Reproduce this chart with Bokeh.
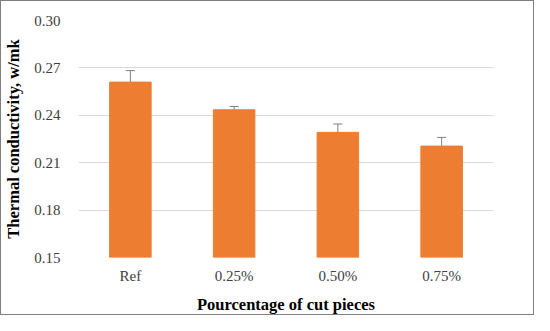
from bokeh.plotting import figure
from bokeh.models import ColumnDataSource, FactorRange, Range1d, Whisker, TeeHead, FixedTicker, CustomJSTickFormatter
from bokeh.embed import file_html
from bokeh.resources import INLINE

categories = ["Ref", "0.25%", "0.50%", "0.75%"]
values = [0.261, 0.2435, 0.2292, 0.2205]
errors = [0.0073, 0.0021, 0.0053, 0.0055]
y_ticks = [0.15, 0.18, 0.21, 0.24, 0.27, 0.30]

upper = [v + e for v, e in zip(values, errors)]
lower = [v - e for v, e in zip(values, errors)]
src = ColumnDataSource(dict(cat=categories, val=values, upper=upper, lower=lower))

p = figure(x_range=FactorRange(*categories, range_padding=0.0),
           y_range=Range1d(0.15, 0.30),
           width=534, height=315, output_backend="svg", toolbar_location=None,
           min_border_left=71, min_border_right=42, min_border_top=19, min_border_bottom=56)
p.styles = {"border": "1px solid #7f7f7f", "box-sizing": "border-box"}
p.outline_line_color = None

p.vbar(x="cat", top="val", bottom=0.15, width=0.4, source=src,
       fill_color="#ED7D31", line_color="#ED7D31")

w = Whisker(base="cat", upper="upper", lower="lower", source=src,
            line_color="#7f7f7f", line_width=1,
            upper_head=TeeHead(size=9, line_color="#7f7f7f", line_width=1),
            lower_head=TeeHead(size=9, line_color="#7f7f7f", line_width=1))
p.add_layout(w)

p.yaxis.ticker = FixedTicker(ticks=y_ticks)
p.yaxis.formatter = CustomJSTickFormatter(code="return tick.toFixed(2);")

for ax in (p.xaxis, p.yaxis):
    ax.axis_line_color = None
    ax.major_tick_line_color = None
    ax.minor_tick_line_color = None
    ax.major_label_text_font = "Liberation Serif"
    ax.major_label_text_font_size = "15px"
    ax.major_label_text_color = "#404040"
    ax.axis_label_text_font = "Liberation Serif"
    ax.axis_label_text_font_style = "bold"
    ax.axis_label_text_font_size = "16.5px"
    ax.axis_label_text_color = "#000000"

p.yaxis.major_label_standoff = 12
p.xaxis.major_label_standoff = 4
p.xaxis.axis_label = "Pourcentage of cut pieces"
p.yaxis.axis_label = "Thermal conductivity, w/mk"
p.xaxis.axis_label_standoff = 8
p.yaxis.axis_label_standoff = 8

p.xgrid.grid_line_color = None
p.ygrid.grid_line_color = "#d9d9d9"
p.ygrid.grid_line_width = 1

open("out.html", "w").write(file_html(p, INLINE))
